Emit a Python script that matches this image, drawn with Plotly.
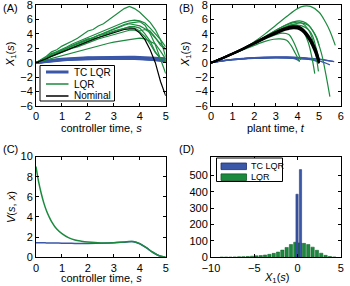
import plotly.graph_objects as go

# ---------------- Panel A data (controller time) ----------------
S_A = [0.0, 0.2, 0.4, 0.6, 0.8, 1.0, 1.2, 1.4, 1.6, 1.8, 2.0, 2.2, 2.4,
       2.6, 2.8, 3.0, 3.2, 3.4, 3.6, 3.8, 4.0, 4.2, 4.4, 4.6, 4.8, 5.0]
A_lqr = [
    [0, 0.4, 0.9, 1.5, 1.8, 2.3, 2.6, 3.0, 3.4, 3.9, 4.4, 4.6, 5.1, 5.4, 5.9, 6.4, 6.9, 7.5, 7.8, 7.5, 7.0, 6.3, 5.6, 4.6, 3.2, 0.8],
    [0, 0.3, 0.7, 1.2, 1.5, 1.9, 2.2, 2.6, 2.9, 3.2, 3.5, 3.8, 4.1, 4.3, 4.6, 4.9, 5.3, 5.6, 5.8, 5.9, 5.8, 5.5, 4.8, 4.0, 3.2, 2.2],
    [0, 0.3, 0.6, 1.1, 1.4, 1.7, 2.1, 2.4, 2.7, 3.0, 3.3, 3.6, 3.9, 4.1, 4.4, 4.7, 5.0, 5.3, 5.5, 5.6, 5.7, 5.2, 4.0, 2.5, 0.5, -1.5],
    [0, 0.3, 0.6, 1.0, 1.3, 1.6, 2.0, 2.3, 2.6, 2.9, 3.2, 3.5, 3.7, 4.0, 4.3, 4.6, 4.9, 5.2, 5.4, 5.3, 5.1, 4.7, 4.4, 3.5, 2.4, 1.8],
    [0, 0.3, 0.6, 1.0, 1.2, 1.5, 1.8, 2.1, 2.4, 2.7, 3.0, 3.3, 3.5, 3.7, 4.0, 4.3, 4.5, 4.8, 5.0, 5.0, 4.8, 4.0, 3.0, 1.5, 0.6, 0.3],
    [0, 0.3, 0.6, 0.9, 1.2, 1.5, 1.7, 2.0, 2.2, 2.5, 2.8, 3.0, 3.3, 3.5, 3.7, 3.9, 4.1, 4.3, 4.5, 4.5, 4.3, 3.6, 2.6, 1.4, 0.6, 0.2],
    [0, 0.35, 0.7, 1.3, 1.4, 1.8, 2.0, 2.4, 2.7, 2.9, 3.3, 3.4, 3.8, 3.9, 4.2, 4.4, 4.6, 4.7, 4.9, 4.8, 4.4, 4.6, 4.2, 3.4, 2.6, 1.9],
    [0, 0.2, 0.4, 0.6, 0.8, 1.0, 1.2, 1.4, 1.6, 1.8, 2.0, 2.2, 2.35, 2.5, 2.7, 2.85, 3.0, 3.1, 3.2, 3.3, 3.4, 3.3, 3.0, 2.6, 1.6, 0.5],
]
A_nominal = [0, 0.25, 0.55, 0.9, 1.2, 1.5, 1.8, 2.1, 2.4, 2.7, 3.0, 3.25, 3.5, 3.7,
             3.95, 4.2, 4.4, 4.6, 4.7, 4.7, 4.1, 3.2, 1.8, 0.0, -2.6, -4.6]
A_tc = [
    [0, 0.13, 0.25, 0.35, 0.43, 0.5, 0.56, 0.61, 0.65, 0.69, 0.72, 0.74, 0.76, 0.78, 0.79, 0.8, 0.8, 0.8, 0.79, 0.78, 0.76, 0.74, 0.71, 0.68, 0.64, 0.6],
    [0, 0.11, 0.21, 0.3, 0.38, 0.44, 0.5, 0.54, 0.58, 0.61, 0.64, 0.66, 0.68, 0.69, 0.7, 0.7, 0.7, 0.7, 0.69, 0.68, 0.66, 0.63, 0.6, 0.56, 0.52, 0.47],
    [0, 0.1, 0.19, 0.27, 0.34, 0.4, 0.45, 0.49, 0.53, 0.56, 0.58, 0.6, 0.61, 0.62, 0.63, 0.63, 0.63, 0.62, 0.61, 0.6, 0.58, 0.55, 0.5, 0.42, 0.3, 0.1],
    [0, 0.09, 0.17, 0.24, 0.3, 0.35, 0.4, 0.44, 0.47, 0.5, 0.52, 0.54, 0.55, 0.56, 0.57, 0.57, 0.57, 0.56, 0.55, 0.54, 0.52, 0.5, 0.47, 0.42, 0.35, 0.25],
]

# ---------------- Panel B data (plant time) ----------------
B_lqr_t = [
    [0, 0.5, 1.0, 1.5, 2.0, 2.5, 3.0, 3.5, 4.0, 4.3, 4.6, 5.0, 5.3, 5.5, 5.75],
    [0, 0.5, 1, 1.5, 2, 2.5, 3, 3.5, 3.8, 4.1, 4.4, 4.7, 4.9, 5.0],
    [0, 0.5, 1, 1.5, 2, 2.5, 3, 3.5, 3.9, 4.2, 4.5, 4.8, 5.1, 5.3, 5.5],
    [0, 0.5, 1, 1.5, 2, 2.5, 3, 3.5, 3.8, 4.1, 4.3, 4.5, 4.65, 4.8],
    [0, 0.5, 1, 1.5, 2, 2.5, 3, 3.5, 3.9, 4.2, 4.5, 4.7, 4.85, 4.97],
    [0, 0.5, 1, 1.5, 2, 2.5, 3, 3.5, 3.9, 4.2, 4.5, 4.7, 4.85, 5.0],
    [0, 0.5, 1, 1.5, 2, 2.5, 2.9, 3.2, 3.5, 3.7, 3.9, 4.1],
    [0, 0.5, 1, 1.5, 2, 2.5, 3, 3.3, 3.6, 3.8, 4.0, 4.15],
]
B_lqr_x = [
    [0, 0.6, 1.25, 1.95, 2.9, 4.0, 5.2, 6.4, 7.5, 7.85, 7.8, 7.0, 5.6, 4.4, 2.4],
    [0, 0.6, 1.25, 1.95, 2.75, 3.6, 4.5, 5.3, 5.65, 5.8, 5.5, 4.5, 3.4, 2.4],
    [0, 0.6, 1.25, 1.95, 2.7, 3.5, 4.3, 5.0, 5.4, 5.5, 5.2, 3.9, 1.4, -1.4, -4.7],
    [0, 0.6, 1.25, 1.95, 2.7, 3.5, 4.3, 5.0, 5.3, 5.0, 4.2, 2.8, 1.0, -1.5],
    [0, 0.6, 1.25, 1.95, 2.75, 3.6, 4.5, 5.25, 5.6, 5.5, 4.6, 3.2, 1.2, -1.2],
    [0, 0.6, 1.25, 1.95, 2.7, 3.5, 4.3, 4.9, 5.2, 5.1, 4.6, 3.7, 2.2, 0.5],
    [0, 0.6, 1.2, 1.8, 2.4, 2.95, 3.25, 3.3, 3.1, 2.4, 1.3, 0.15],
    [0, 0.6, 1.25, 1.9, 2.6, 3.3, 3.9, 4.1, 3.9, 3.0, 1.6, 0.4],
]
B_nom_t = [0, 0.5, 1, 1.5, 2, 2.5, 3, 3.3, 3.6, 3.8, 4.0, 4.2, 4.4, 4.6, 4.8, 4.9, 5.0]
B_nom_x = [
    [0, 0.6, 1.25, 1.95, 2.7, 3.45, 4.15, 4.55, 4.85, 4.95, 4.9, 4.6, 4.0, 3.1, 1.9, 1.1, 0.1],
    [0, 0.6, 1.25, 1.95, 2.65, 3.4, 4.05, 4.45, 4.7, 4.8, 4.75, 4.45, 3.85, 2.9, 1.6, 0.8, -0.1],
    [0, 0.6, 1.27, 1.98, 2.75, 3.52, 4.25, 4.65, 4.95, 5.05, 5.0, 4.75, 4.15, 3.3, 2.1, 1.35, 0.3],
]
B_tc_t = [
    [0, 0.5, 1, 1.5, 2, 2.5, 3, 3.5, 3.8, 4.0, 4.1],
    [0, 0.5, 1, 1.5, 2, 2.5, 3, 3.5, 4, 4.5, 5, 5.3, 5.7],
    [0, 0.5, 1, 1.5, 2, 2.5, 3, 3.5, 4, 4.5, 5, 5.25, 5.5],
    [0, 0.5, 1, 1.5, 2, 2.5, 3, 3.5, 4, 4.5, 4.8, 5.0],
    [0, 0.5, 1, 1.5, 2, 2.5, 3, 3.5, 4, 4.5, 5, 5.65],
]
B_tc_x = [
    [0, 0.25, 0.42, 0.55, 0.63, 0.68, 0.7, 0.68, 0.6, 0.4, 0.2],
    [0, 0.25, 0.42, 0.55, 0.63, 0.68, 0.7, 0.7, 0.66, 0.58, 0.45, 0.33, 0.15],
    [0, 0.23, 0.4, 0.52, 0.6, 0.64, 0.66, 0.64, 0.58, 0.45, 0.25, 0.0, -0.3],
    [0, 0.27, 0.45, 0.58, 0.66, 0.72, 0.76, 0.76, 0.7, 0.55, 0.3, 0.0],
    [0, 0.28, 0.47, 0.6, 0.7, 0.76, 0.8, 0.8, 0.75, 0.65, 0.5, 0.2],
]

# ---------------- Panel C data ----------------
S_C = [0, 0.1, 0.2, 0.3, 0.4, 0.5, 0.6, 0.8, 1.0, 1.25, 1.5, 1.75, 2.0, 2.5,
       3.0, 3.5, 3.75, 4.0, 4.25, 4.5, 4.75, 5.0]
V_lqr = [9.0, 7.5, 6.35, 5.4, 4.65, 4.05, 3.55, 2.8, 2.35, 1.95, 1.72, 1.6, 1.52, 1.43,
         1.45, 1.55, 1.56, 1.35, 0.95, 0.5, 0.15, 0.0]
V_tc = [1.45, 1.45, 1.44, 1.44, 1.43, 1.43, 1.42, 1.41, 1.4, 1.39, 1.38, 1.38, 1.38, 1.4,
        1.44, 1.53, 1.55, 1.34, 0.95, 0.5, 0.15, 0.0]

# ---------------- Panel D data (histogram counts) ----------------
D_bins = [-8.75, -8.25, -7.75, -7.25, -6.75, -6.25, -5.75, -5.25, -4.75, -4.25, -3.75,
          -3.25, -2.75, -2.25, -1.75, -1.25, -0.75, -0.25, 0.25, 0.75, 1.25, 1.75,
          2.25, 2.75, 3.25, 3.75, 4.25]
D_lqr = [1, 1, 1, 2, 3, 4, 5, 7, 9, 11, 14, 18, 24, 32, 44, 60, 78, 92, 88, 85, 78, 62,
         43, 25, 12, 5, 2]
D_tc_bins = [-0.05, 0.35]
D_tc = [385, 535]

# tick values
TICKS_X1 = [-6, -4, -2, 0, 2, 4, 6, 8]
TICKS_S = [0, 1, 2, 3, 4, 5]
TICKS_T = [0, 1, 2, 3, 4, 5, 6]
TICKS_V = [0, 2, 4, 6, 8, 10]
TICKS_DX = [-10, -5, 0, 5]
TICKS_DY = [0, 100, 200, 300, 400, 500]

LEGEND_A = ["TC LQR", "LQR", "Nominal"]
LEGEND_D = ["TC LQR", "LQR"]

BLUE = "#3a57a8"
GREEN = "#1c8a3e"
FONT = "Liberation Sans, Arial, Helvetica, sans-serif"
W, H = 350, 286

fig = go.Figure()

# Panel A
for y in A_tc:
    fig.add_trace(go.Scatter(x=S_A, y=y, mode="lines", line=dict(color=BLUE, width=2.5),
                             showlegend=False, xaxis="x", yaxis="y"))
for y in A_lqr:
    fig.add_trace(go.Scatter(x=S_A, y=y, mode="lines", line=dict(color=GREEN, width=1.2),
                             showlegend=False, xaxis="x", yaxis="y"))
fig.add_trace(go.Scatter(x=S_A, y=A_nominal, mode="lines", line=dict(color="black", width=1.2),
                         showlegend=False, xaxis="x", yaxis="y"))

# Panel B
for t, y in zip(B_tc_t, B_tc_x):
    fig.add_trace(go.Scatter(x=t, y=y, mode="lines", line=dict(color=BLUE, width=1.3, shape="spline"),
                             showlegend=False, xaxis="x2", yaxis="y2"))
for t, y in zip(B_lqr_t, B_lqr_x):
    fig.add_trace(go.Scatter(x=t, y=y, mode="lines", line=dict(color=GREEN, width=1.2, shape="spline"),
                             showlegend=False, xaxis="x2", yaxis="y2"))
for y in B_nom_x:
    fig.add_trace(go.Scatter(x=B_nom_t, y=y, mode="lines", line=dict(color="black", width=2.2, shape="spline"),
                             showlegend=False, xaxis="x2", yaxis="y2"))

# Panel C
fig.add_trace(go.Scatter(x=S_C, y=V_tc, mode="lines", line=dict(color=BLUE, width=1.5, shape="spline"),
                         showlegend=False, xaxis="x3", yaxis="y3"))
fig.add_trace(go.Scatter(x=S_C, y=V_lqr, mode="lines", line=dict(color=GREEN, width=1.5, shape="spline"),
                         showlegend=False, xaxis="x3", yaxis="y3"))

# Panel D
fig.add_trace(go.Bar(x=D_bins, y=D_lqr, width=0.38,
                     marker=dict(color=GREEN, line=dict(color="#0d5a25", width=0.5)),
                     showlegend=False, xaxis="x4", yaxis="y4"))
fig.add_trace(go.Bar(x=D_tc_bins, y=D_tc, width=0.26,
                     marker=dict(color=BLUE, line=dict(color="#1f2f70", width=0.5)),
                     showlegend=False, xaxis="x4", yaxis="y4"))

ax = dict(showline=True, mirror="allticks", linecolor="black", linewidth=1, ticks="inside",
          ticklen=3, tickcolor="black", showgrid=False, zeroline=False, automargin=False,
          ticklabeloverflow="allow",
          tickfont=dict(family=FONT, size=11, color="black"))

def px(x):
    return x / W

def py(y):
    return 1 - y / H

xl, xr = px(36), px(165.7)
xl2, xr2 = px(211), px(340.7)
yt, yb = py(5), py(106)
yt2, yb2 = py(156.5), py(257.3)

fig.update_layout(
    template=None,
    width=W, height=H, margin=dict(l=0, r=0, t=0, b=0, autoexpand=False),
    paper_bgcolor="white", plot_bgcolor="white", barmode="overlay", showlegend=False,
    font=dict(family=FONT, size=11, color="black"),
    xaxis=dict(ax, domain=[xl, xr], anchor="y", range=[0, 5], tickvals=TICKS_S),
    yaxis=dict(ax, domain=[yb, yt], anchor="x", range=[-6, 8], tickvals=TICKS_X1),
    xaxis2=dict(ax, domain=[xl2, xr2], anchor="y2", range=[0, 6], tickvals=TICKS_T),
    yaxis2=dict(ax, domain=[yb, yt], anchor="x2", range=[-6, 8], tickvals=TICKS_X1),
    xaxis3=dict(ax, domain=[xl, xr], anchor="y3", range=[0, 5], tickvals=TICKS_S),
    yaxis3=dict(ax, domain=[yb2, yt2], anchor="x3", range=[0, 10], tickvals=TICKS_V),
    xaxis4=dict(ax, domain=[xl2, xr2], anchor="y4", range=[-10, 5], tickvals=TICKS_DX),
    yaxis4=dict(ax, domain=[yb2, yt2], anchor="x4", range=[0, 615], tickvals=TICKS_DY),
)

def note(text, x, y, size=11, angle=0, xanchor="center"):
    fig.add_annotation(text=text, x=px(x), y=py(y), xref="paper", yref="paper",
                       xanchor=xanchor, yanchor="middle", showarrow=False, textangle=angle,
                       font=dict(family=FONT, size=size, color="black"))

# panel labels
for txt, x, y in [("(A)", 1, 8), ("(B)", 177, 8), ("(C)", 1, 149), ("(D)", 177, 149)]:
    note(txt, x, y, xanchor="left")

# axis titles
X1 = "<i>X</i><sub>1</sub>(<i>s</i>)"
note("controller time, <i>s</i>", 101, 127.5)
note("plant time, <i>t</i>", 276, 127.5)
note("controller time, <i>s</i>", 101, 278)
note(X1, 276, 278)
note(X1, 11, 55, angle=-90)
note(X1, 186, 55, angle=-90)
note("<i>V</i>(<i>s</i>, <i>x</i>)", 11, 207, angle=-90)

# legend A (drawn manually)
fig.add_shape(type="rect", xref="paper", yref="paper", x0=px(40), x1=px(114.5), y0=py(101), y1=py(65.5),
              line=dict(color="black", width=1), fillcolor="white", layer="above")
for lab, col, yy, wd in zip(LEGEND_A, [BLUE, GREEN, "black"], [72, 84, 96], [3, 1.5, 1.5]):
    fig.add_shape(type="line", xref="paper", yref="paper", x0=px(46), x1=px(68.5), y0=py(yy), y1=py(yy),
                  line=dict(color=col, width=wd), layer="above")
    note(lab, 72, yy, size=10, xanchor="left")

# legend D (drawn manually)
fig.add_shape(type="rect", xref="paper", yref="paper", x0=px(216.5), x1=px(282.5), y0=py(181.5), y1=py(158),
              line=dict(color="black", width=1), fillcolor="white", layer="above")
for lab, col, edge, yy in zip(LEGEND_D, [BLUE, GREEN], ["#1f2f70", "#0d5a25"], [166.3, 177.2]):
    fig.add_shape(type="rect", xref="paper", yref="paper", x0=px(221), x1=px(246.5), y0=py(yy + 3.3), y1=py(yy - 3.3),
                  line=dict(color=edge, width=0.8), fillcolor=col, layer="above")
    note(lab, 249, yy, size=9, xanchor="left")

fig.write_html("out.html", config={"displayModeBar": False},
               post_script="document.body.style.margin='0';document.body.style.padding='0';")
